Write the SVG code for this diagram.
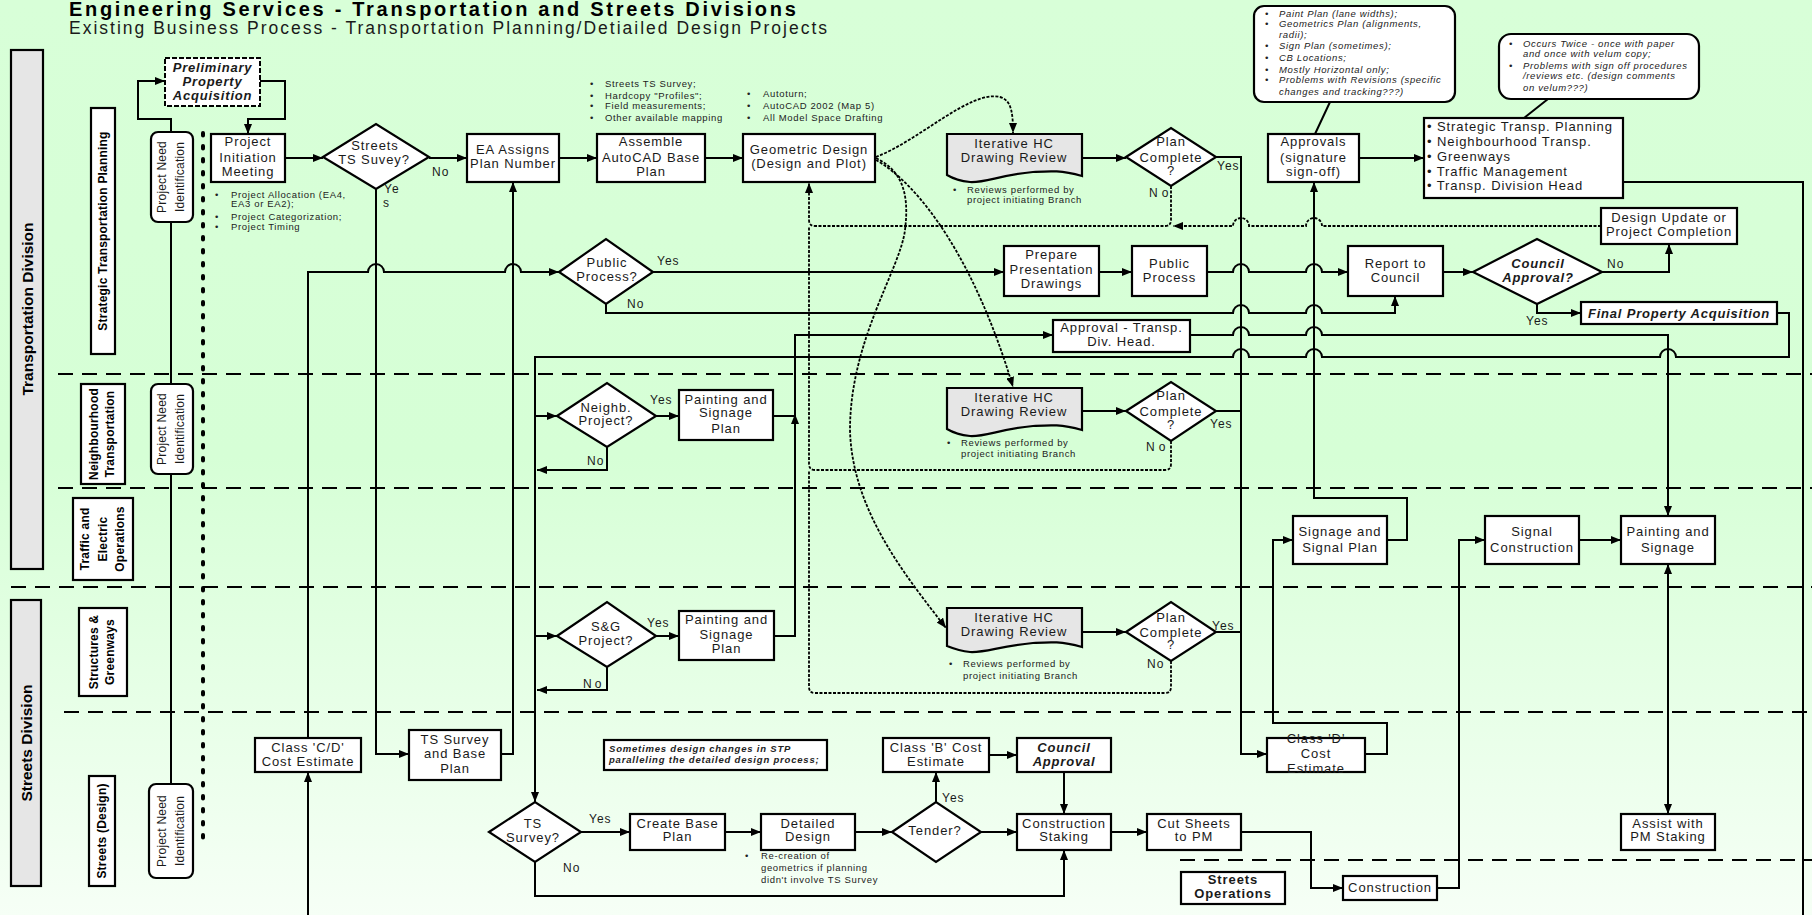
<svg xmlns="http://www.w3.org/2000/svg" width="1812" height="915" viewBox="0 0 1812 915">
<defs>
<linearGradient id="bg" x1="0" y1="0" x2="0" y2="1">
<stop offset="0" stop-color="#d8ffd8"/>
<stop offset="0.5" stop-color="#d6ffd6"/>
<stop offset="1" stop-color="#f6fff6"/>
</linearGradient>
<marker id="ah" viewBox="0 0 10 8" refX="10" refY="4" markerWidth="10" markerHeight="8" markerUnits="userSpaceOnUse" orient="auto-start-reverse">
<path d="M0,0 L10,4 L0,8 z" fill="#000"/>
</marker>
<style>
.n{fill:#fff;stroke:#000;stroke-width:2.2}
.g{fill:#e6e6e6;stroke:#000;stroke-width:2.2}
.t{font-family:"Liberation Sans",Arial,sans-serif;font-size:13px;letter-spacing:0.9px;text-anchor:middle;fill:#1a1a1a}
.b{font-weight:bold;font-style:italic;letter-spacing:0.8px}
.s{font-family:"Liberation Sans",Arial,sans-serif;font-size:9.5px;letter-spacing:0.65px;fill:#222}
.i{font-style:italic}
.l{font-family:"Liberation Sans",Arial,sans-serif;font-size:12px;letter-spacing:1px;fill:#1a1a1a}
.v{font-family:"Liberation Sans",Arial,sans-serif;font-size:12px;letter-spacing:0.2px;text-anchor:middle;fill:#1a1a1a}
.lb{font-family:"Liberation Sans",Arial,sans-serif;font-size:12px;font-weight:bold;letter-spacing:0.2px;text-anchor:middle;fill:#000}
.dv{font-family:"Liberation Sans",Arial,sans-serif;font-size:15.5px;font-weight:bold;text-anchor:middle;fill:#000}
.c{fill:none;stroke:#000;stroke-width:2}
.d{fill:none;stroke:#000;stroke-width:1.8;stroke-dasharray:3 1.5}
.ln{fill:none;stroke:#000;stroke-width:2.2;stroke-dasharray:15 9}
</style>
</defs>
<rect x="0" y="0" width="1812" height="915" fill="url(#bg)"/>
<g id="header">
<text x="69" y="15.5" style="font-family:'Liberation Sans',Arial,sans-serif;font-size:20px;font-weight:bold;letter-spacing:2.7px;fill:#000">Engineering Services - Transportation and Streets Divisions</text>
<text x="69" y="34" style="font-family:'Liberation Sans',Arial,sans-serif;font-size:17.5px;letter-spacing:2px;fill:#1a1a1a">Existing Business Process - Transportation Planning/Detiailed Design Projects</text>
</g>
<g id="lanes">
<path class="ln" d="M58 374H1812M58 488H1812M11 587H1812M64 712H1812M1180 860H1812"/>
<path d="M203 133V848" fill="none" stroke="#000" stroke-width="4" stroke-linecap="round" stroke-dasharray="2.5 10.5"/>
</g>
<g id="div-transportation"><rect x="11" y="50" width="32" height="519" class="g"/><text class="dv" transform="translate(33,309) rotate(-90)">Transportation Division</text></g>
<g id="div-streets"><rect x="11" y="600" width="30" height="286" class="g"/><text class="dv" transform="translate(32,743) rotate(-90)">Streets Division</text></g>
<g id="lane-stp"><rect x="91" y="108" width="24" height="246" class="n"/><text class="lb" transform="translate(107,231) rotate(-90)">Strategic Transportation Planning</text></g>
<g id="lane-nt"><rect x="81" y="384" width="44" height="100" class="n"/><text class="lb" transform="translate(97.5,434) rotate(-90)">Neighbourhood</text><text class="lb" transform="translate(114,434) rotate(-90)">Transportation</text></g>
<g id="lane-teo"><rect x="73" y="498" width="60" height="82" class="n"/><text class="lb" transform="translate(89,539) rotate(-90)">Traffic and</text><text class="lb" transform="translate(106.5,539) rotate(-90)">Electric</text><text class="lb" transform="translate(124,539) rotate(-90)">Operations</text></g>
<g id="lane-sg"><rect x="79" y="608" width="48" height="88" class="n"/><text class="lb" transform="translate(98,652) rotate(-90)">Structures &amp;</text><text class="lb" transform="translate(114,652) rotate(-90)">Greenways</text></g>
<g id="lane-sd"><rect x="89" y="776" width="26" height="110" class="n"/><text class="lb" transform="translate(106,831) rotate(-90)">Streets (Design)</text></g>

<g id="connectors">
<path class="c" d="M171 132V119H138V81H165" marker-end="url(#ah)"/>
<path class="c" d="M260 81H285V119H248V134" marker-end="url(#ah)"/>
<path class="c" d="M171 222V384M171 474V784"/>
<path class="c" d="M285 158H323" marker-end="url(#ah)"/>
<path class="c" d="M429 158H467" marker-end="url(#ah)"/>
<path class="c" d="M376 189V754H409" marker-end="url(#ah)"/>
<path class="c" d="M559 158H597" marker-end="url(#ah)"/>
<path class="c" d="M705 158H743" marker-end="url(#ah)"/>
<path class="c" d="M501 754H513V182" marker-end="url(#ah)"/>
<path class="c" d="M308 738V272H368A8 8 0 0 1 384 272H505A8 8 0 0 1 521 272H559" marker-end="url(#ah)"/>
<path class="c" d="M308 915V772" marker-end="url(#ah)"/>
<path class="c" d="M653 272H1004" marker-end="url(#ah)"/>
<path class="c" d="M1099 272H1132" marker-end="url(#ah)"/>
<path class="c" d="M1207 272H1233A8 8 0 0 1 1249 272H1306A8 8 0 0 1 1322 272H1348" marker-end="url(#ah)"/>
<path class="c" d="M1443 272H1473" marker-end="url(#ah)"/>
<path class="c" d="M1602 272H1669V244" marker-end="url(#ah)"/>
<path class="c" d="M1537 304V313H1581" marker-end="url(#ah)"/>
<path class="c" d="M1777 313H1789V357H1676A8 8 0 0 0 1660 357H1322A8 8 0 0 0 1306 357H1249A8 8 0 0 0 1233 357H535V802" marker-end="url(#ah)"/>
<path class="c" d="M606 304V313H1233A8 8 0 0 1 1249 313H1306A8 8 0 0 1 1322 313H1395V296" marker-end="url(#ah)"/>
<path class="c" d="M535 416H557" marker-end="url(#ah)"/>
<path class="c" d="M607 447V470H537" marker-end="url(#ah)"/>
<path class="c" d="M656 416H679" marker-end="url(#ah)"/>
<path class="c" d="M773 416H795"/>
<polygon points="795,414 791,424 799,424" fill="#000"/>
<path class="c" d="M535 636H557" marker-end="url(#ah)"/>
<path class="c" d="M607 667V690H537" marker-end="url(#ah)"/>
<path class="c" d="M656 636H679" marker-end="url(#ah)"/>
<path class="c" d="M774 636H795V335H1053" marker-end="url(#ah)"/>
<path class="c" d="M1190 335H1233A8 8 0 0 1 1249 335H1306A8 8 0 0 1 1322 335H1668V516" marker-end="url(#ah)"/>
<path class="c" d="M1668 564V814" marker-start="url(#ah)" marker-end="url(#ah)"/>
<path class="c" d="M1579 540H1621" marker-end="url(#ah)"/>
<path class="c" d="M1437 888H1459V540H1485" marker-end="url(#ah)"/>
<path class="c" d="M1365 754H1387V723H1273V540H1293" marker-end="url(#ah)"/>
<path class="c" d="M1387 540H1407V498H1314V182" marker-end="url(#ah)"/>
<path class="c" d="M1216 157H1241V754H1267" marker-end="url(#ah)"/>
<path class="c" d="M1216 411H1241M1216 632H1241"/>
<path class="c" d="M1359 158H1424" marker-end="url(#ah)"/>
<path class="c" d="M1623 182H1803V915"/>
<path class="c" d="M1315 134L1330 102M1524 118L1548 99"/>
<path class="c" d="M1082 158H1126" marker-end="url(#ah)"/>
<path class="c" d="M1082 411H1126" marker-end="url(#ah)"/>
<path class="c" d="M1082 632H1126" marker-end="url(#ah)"/>
<path class="c" d="M581 832H630" marker-end="url(#ah)"/>
<path class="c" d="M725 832H761" marker-end="url(#ah)"/>
<path class="c" d="M855 832H892" marker-end="url(#ah)"/>
<path class="c" d="M936 802V772" marker-end="url(#ah)"/>
<path class="c" d="M989 755H1017" marker-end="url(#ah)"/>
<path class="c" d="M1064 772V814" marker-end="url(#ah)"/>
<path class="c" d="M981 832H1017" marker-end="url(#ah)"/>
<path class="c" d="M535 862V896H1064V850" marker-end="url(#ah)"/>
<path class="c" d="M1111 832H1147" marker-end="url(#ah)"/>
<path class="c" d="M1241 832H1311V888H1343" marker-end="url(#ah)"/>
<path class="d" d="M1601 226H1322A8 8 0 0 0 1306 226H1249A8 8 0 0 0 1233 226H1173" marker-end="url(#ah)"/>
<path class="d" d="M1171 186V220Q1171 226 1165 226H815Q809 226 809 220V183" marker-end="url(#ah)"/>
<path class="d" d="M1171 441V464Q1171 470 1165 470H815Q809 470 809 464V226"/>
<path class="d" d="M1171 661V687Q1171 693 1165 693H815Q809 693 809 687V470"/>
<path class="d" d="M876 157C920 140 970 90 1000 97C1012 100 1013 115 1013 133" marker-end="url(#ah)"/>
<path class="d" d="M876 160C920 185 975 260 1013 387" marker-end="url(#ah)"/>
<path class="d" d="M876 158C900 170 910 190 905 230C900 270 850 340 850 430C852 510 905 575 946 628" marker-end="url(#ah)"/>
</g>

<g id="pni-1"><rect x="151" y="132" width="42" height="90" rx="7" class="n"/><text class="v" transform="translate(166,177) rotate(-90)">Project Need</text><text class="v" transform="translate(184,177) rotate(-90)">Identification</text></g>
<g id="pni-2"><rect x="151" y="384" width="42" height="90" rx="7" class="n"/><text class="v" transform="translate(166,429) rotate(-90)">Project Need</text><text class="v" transform="translate(184,429) rotate(-90)">Identification</text></g>
<g id="pni-3"><rect x="149" y="784" width="44" height="94" rx="7" class="n"/><text class="v" transform="translate(166,831) rotate(-90)">Project Need</text><text class="v" transform="translate(184,831) rotate(-90)">Identification</text></g>

<g id="ppa"><rect x="165" y="58" width="95" height="48" fill="#fff" stroke="#000" stroke-width="2" stroke-dasharray="5 2"/><text class="t b" x="212.5" y="72">Preliminary</text><text class="t b" x="212.5" y="86">Property</text><text class="t b" x="212.5" y="100">Acquisition</text></g>

<g id="pim"><rect x="211" y="134" width="74" height="48" class="n"/><text class="t" x="248" y="146">Project</text><text class="t" x="248" y="162">Initiation</text><text class="t" x="248" y="176">Meeting</text>
<text class="s" x="215" y="198">•</text><text class="s" x="231" y="198">Project Allocation (EA4,</text><text class="s" x="231" y="207">EA3 or EA2);</text>
<text class="s" x="215" y="220">•</text><text class="s" x="231" y="220">Project Categorization;</text>
<text class="s" x="215" y="230">•</text><text class="s" x="231" y="230">Project Timing</text></g>

<g id="sts"><polygon points="323,157 376,124 429,157 376,189" class="n"/><text class="t" x="375" y="150">Streets</text><text class="t" x="374" y="164">TS Suvey?</text>
<text class="l" x="432" y="176">No</text><text class="l" x="384" y="193">Ye</text><text class="l" x="383" y="207">s</text></g>

<g id="ea"><rect x="467" y="134" width="92" height="48" class="n"/><text class="t" x="513" y="154">EA Assigns</text><text class="t" x="513" y="168">Plan Number</text></g>

<g id="assemble"><rect x="597" y="134" width="108" height="48" class="n"/><text class="t" x="651" y="146">Assemble</text><text class="t" x="651" y="162">AutoCAD Base</text><text class="t" x="651" y="176">Plan</text>
<text class="s" x="590" y="87">•</text><text class="s" x="605" y="87">Streets TS Survey;</text>
<text class="s" x="590" y="99">•</text><text class="s" x="605" y="99">Hardcopy "Profiles";</text>
<text class="s" x="590" y="109">•</text><text class="s" x="605" y="109">Field measurements;</text>
<text class="s" x="590" y="121">•</text><text class="s" x="605" y="121">Other available mapping</text></g>

<g id="geo"><rect x="743" y="134" width="132" height="48" class="n"/><text class="t" x="809" y="154">Geometric Design</text><text class="t" x="809" y="168">(Design and Plot)</text>
<text class="s" x="747" y="97">•</text><text class="s" x="763" y="97">Autoturn;</text>
<text class="s" x="747" y="109">•</text><text class="s" x="763" y="109">AutoCAD 2002 (Map 5)</text>
<text class="s" x="747" y="121">•</text><text class="s" x="763" y="121">All Model Space Drafting</text></g>

<g id="ihc-1"><path class="g" d="M947 134H1082V176C1060 170 1050 171 1033 172C1000 175 985 183 970 182C960 181 952 178 947 175Z"/><text class="t" x="1014" y="148">Iterative HC</text><text class="t" x="1014" y="162">Drawing Review</text>
<text class="s" x="953" y="193">•</text><text class="s" x="967" y="193">Reviews performed by</text><text class="s" x="967" y="203">project initiating Branch</text></g>
<g id="pc-1"><polygon points="1126,157 1171,128 1216,157 1171,186" class="n"/><text class="t" x="1171" y="146">Plan</text><text class="t" x="1171" y="162">Complete</text><text class="t" x="1171" y="175">?</text>
<text class="l" x="1217" y="170">Yes</text><text class="l" x="1149" y="197" style="letter-spacing:4px">No</text></g>

<g id="ihc-2"><path class="g" d="M947 388H1082V430C1060 424 1050 425 1033 426C1000 429 985 437 970 436C960 435 952 432 947 429Z"/><text class="t" x="1014" y="402">Iterative HC</text><text class="t" x="1014" y="416">Drawing Review</text>
<text class="s" x="947" y="446">•</text><text class="s" x="961" y="446">Reviews performed by</text><text class="s" x="961" y="457">project initiating Branch</text></g>
<g id="pc-2"><polygon points="1126,411 1171,382 1216,411 1171,441" class="n"/><text class="t" x="1171" y="400">Plan</text><text class="t" x="1171" y="416">Complete</text><text class="t" x="1171" y="429">?</text>
<text class="l" x="1210" y="428">Yes</text><text class="l" x="1146" y="451" style="letter-spacing:4px">No</text></g>

<g id="ihc-3"><path class="g" d="M947 608H1082V647C1060 641 1050 642 1033 643C1000 646 985 653 970 652C960 651 952 648 947 646Z"/><text class="t" x="1014" y="622">Iterative HC</text><text class="t" x="1014" y="636">Drawing Review</text>
<text class="s" x="949" y="667">•</text><text class="s" x="963" y="667">Reviews performed by</text><text class="s" x="963" y="679">project initiating Branch</text></g>
<g id="pc-3"><polygon points="1126,632 1171,602 1216,632 1171,661" class="n"/><text class="t" x="1171" y="622">Plan</text><text class="t" x="1171" y="637">Complete</text><text class="t" x="1171" y="649">?</text>
<text class="l" x="1212" y="630">Yes</text><text class="l" x="1147" y="668">No</text></g>

<g id="approvals"><rect x="1268" y="134" width="91" height="48" class="n"/><text class="t" x="1313.5" y="146">Approvals</text><text class="t" x="1313.5" y="162">(signature</text><text class="t" x="1313.5" y="176">sign-off)</text></g>
<g id="callout-1"><rect x="1254" y="6" width="201" height="96" rx="10" class="n"/>
<text class="s i" x="1265" y="17">•</text><text class="s i" x="1279" y="17">Paint Plan (lane widths);</text>
<text class="s i" x="1265" y="27">•</text><text class="s i" x="1279" y="27">Geometrics Plan (alignments,</text>
<text class="s i" x="1279" y="38">radii);</text>
<text class="s i" x="1265" y="49">•</text><text class="s i" x="1279" y="49">Sign Plan (sometimes);</text>
<text class="s i" x="1265" y="61">•</text><text class="s i" x="1279" y="61">CB Locations;</text>
<text class="s i" x="1265" y="73">•</text><text class="s i" x="1279" y="73">Mostly Horizontal only;</text>
<text class="s i" x="1265" y="83">•</text><text class="s i" x="1279" y="83">Problems with Revisions (specific</text>
<text class="s i" x="1279" y="95">changes and tracking???)</text></g>

<g id="branches"><rect x="1424" y="118" width="199" height="80" class="n"/>
<text class="t" x="1427" y="131" style="text-anchor:start">• Strategic Transp. Planning</text>
<text class="t" x="1427" y="146" style="text-anchor:start">• Neighbourhood Transp.</text>
<text class="t" x="1427" y="161" style="text-anchor:start">• Greenways</text>
<text class="t" x="1427" y="176" style="text-anchor:start">• Traffic Management</text>
<text class="t" x="1427" y="190" style="text-anchor:start">• Transp. Division Head</text></g>
<g id="callout-2"><rect x="1499" y="34" width="200" height="65" rx="12" class="n"/>
<text class="s i" x="1509" y="47">•</text><text class="s i" x="1523" y="47">Occurs Twice - once with paper</text>
<text class="s i" x="1523" y="57">and once with velum copy;</text>
<text class="s i" x="1509" y="69">•</text><text class="s i" x="1523" y="69">Problems with sign off procedures</text>
<text class="s i" x="1523" y="79">/reviews etc. (design comments</text>
<text class="s i" x="1523" y="91">on velum???)</text></g>

<g id="design-update"><rect x="1601" y="208" width="136" height="36" class="n"/><text class="t" x="1669" y="222">Design Update or</text><text class="t" x="1669" y="236">Project Completion</text></g>

<g id="public-q"><polygon points="559,272 606,239 653,272 606,304" class="n"/><text class="t" x="607" y="267">Public</text><text class="t" x="607" y="281">Process?</text>
<text class="l" x="657" y="265">Yes</text><text class="l" x="627" y="308">No</text></g>
<g id="prepare"><rect x="1004" y="246" width="95" height="50" class="n"/><text class="t" x="1051.5" y="259">Prepare</text><text class="t" x="1051.5" y="274">Presentation</text><text class="t" x="1051.5" y="288">Drawings</text></g>
<g id="public-process"><rect x="1132" y="246" width="75" height="50" class="n"/><text class="t" x="1169.5" y="268">Public</text><text class="t" x="1169.5" y="282">Process</text></g>
<g id="report"><rect x="1348" y="246" width="95" height="50" class="n"/><text class="t" x="1395.5" y="268">Report  to</text><text class="t" x="1395.5" y="282">Council</text></g>
<g id="council-q"><polygon points="1473,272 1537,239 1602,272 1537,304" class="n"/><text class="t b" x="1538" y="268">Council</text><text class="t b" x="1538" y="282">Approval?</text>
<text class="l" x="1607" y="268">No</text><text class="l" x="1526" y="325">Yes</text></g>
<g id="fpa"><rect x="1581" y="302" width="196" height="22" class="n"/><text class="t b" x="1679" y="318">Final Property Acquisition</text></g>

<g id="approval-head"><rect x="1053" y="320" width="137" height="32" class="n"/><text class="t" x="1121.5" y="332">Approval - Transp.</text><text class="t" x="1121.5" y="346">Div. Head.</text></g>

<g id="neighb-q"><polygon points="557,416 607,383 656,416 607,447" class="n"/><text class="t" x="606" y="412">Neighb.</text><text class="t" x="606" y="425">Project?</text>
<text class="l" x="650" y="404">Yes</text><text class="l" x="587" y="465">No</text></g>
<g id="nt-painting"><rect x="679" y="390" width="94" height="50" class="n"/><text class="t" x="726" y="404">Painting and</text><text class="t" x="726" y="417">Signage</text><text class="t" x="726" y="433">Plan</text></g>

<g id="sg-q"><polygon points="557,636 607,602 656,636 607,667" class="n"/><text class="t" x="606" y="631">S&amp;G</text><text class="t" x="606" y="645">Project?</text>
<text class="l" x="647" y="627">Yes</text><text class="l" x="583" y="688" style="letter-spacing:3px">No</text></g>
<g id="sg-painting"><rect x="679" y="611" width="95" height="49" class="n"/><text class="t" x="726.5" y="624">Painting and</text><text class="t" x="726.5" y="639">Signage</text><text class="t" x="726.5" y="653">Plan</text></g>

<g id="signage-signal"><rect x="1293" y="516" width="94" height="48" class="n"/><text class="t" x="1340" y="536">Signage and</text><text class="t" x="1340" y="552">Signal Plan</text></g>
<g id="signal-construction"><rect x="1485" y="516" width="94" height="48" class="n"/><text class="t" x="1532" y="536">Signal</text><text class="t" x="1532" y="552">Construction</text></g>
<g id="painting-signage"><rect x="1621" y="516" width="94" height="48" class="n"/><text class="t" x="1668" y="536">Painting and</text><text class="t" x="1668" y="552">Signage</text></g>
<g id="assist"><rect x="1621" y="814" width="94" height="36" class="n"/><text class="t" x="1668" y="828">Assist with</text><text class="t" x="1668" y="841">PM Staking</text></g>

<g id="class-cd"><rect x="255" y="738" width="106" height="34" class="n"/><text class="t" x="308" y="752">Class 'C/D'</text><text class="t" x="308" y="766">Cost Estimate</text></g>
<g id="ts-base"><rect x="409" y="730" width="92" height="50" class="n"/><text class="t" x="455" y="744">TS Survey</text><text class="t" x="455" y="758">and Base</text><text class="t" x="455" y="773">Plan</text></g>
<g id="note"><rect x="604" y="740" width="223" height="30" class="n"/><text class="s" x="609" y="752" style="font-weight:bold;font-style:italic;letter-spacing:0.8px">Sometimes design changes in STP</text><text class="s" x="609" y="763" style="font-weight:bold;font-style:italic;letter-spacing:0.8px">paralleling the detailed design process;</text></g>
<g id="class-b"><rect x="883" y="738" width="106" height="34" class="n"/><text class="t" x="936" y="752">Class 'B' Cost</text><text class="t" x="936" y="766">Estimate</text></g>
<g id="council-box"><rect x="1017" y="738" width="94" height="34" class="n"/><text class="t b" x="1064" y="752">Council</text><text class="t b" x="1064" y="766">Approval</text></g>
<g id="class-d"><rect x="1267" y="738" width="98" height="34" class="n"/><text class="t" x="1316" y="743">Class 'D'</text><text class="t" x="1316" y="758">Cost</text><text class="t" x="1316" y="773">Estimate</text></g>

<g id="ts-q"><polygon points="489,832 535,802 581,832 535,862" class="n"/><text class="t" x="533" y="828">TS</text><text class="t" x="533" y="842">Survey?</text>
<text class="l" x="589" y="823">Yes</text><text class="l" x="563" y="872">No</text></g>
<g id="create-base"><rect x="630" y="814" width="95" height="36" class="n"/><text class="t" x="677.5" y="828">Create Base</text><text class="t" x="677.5" y="841">Plan</text></g>
<g id="detailed"><rect x="761" y="814" width="94" height="36" class="n"/><text class="t" x="808" y="828">Detailed</text><text class="t" x="808" y="841">Design</text>
<text class="s" x="745" y="859">•</text><text class="s" x="761" y="859">Re-creation  of</text><text class="s" x="761" y="871">geometrics if planning</text><text class="s" x="761" y="883">didn't involve TS Survey</text></g>
<g id="tender"><polygon points="892,832 936,802 981,832 936,862" class="n"/><text class="t" x="935" y="835">Tender?</text><text class="l" x="942" y="802">Yes</text></g>
<g id="staking"><rect x="1017" y="814" width="94" height="36" class="n"/><text class="t" x="1064" y="828">Construction</text><text class="t" x="1064" y="841">Staking</text></g>
<g id="cut-sheets"><rect x="1147" y="814" width="94" height="36" class="n"/><text class="t" x="1194" y="828">Cut Sheets</text><text class="t" x="1194" y="841">to PM</text></g>
<g id="construction"><rect x="1343" y="876" width="94" height="24" class="n"/><text class="t" x="1390" y="892">Construction</text></g>
<g id="streets-ops"><rect x="1181" y="872" width="104" height="32" class="n"/><text class="t" x="1233" y="884" style="font-weight:bold">Streets</text><text class="t" x="1233" y="898" style="font-weight:bold">Operations</text></g>
</svg>
